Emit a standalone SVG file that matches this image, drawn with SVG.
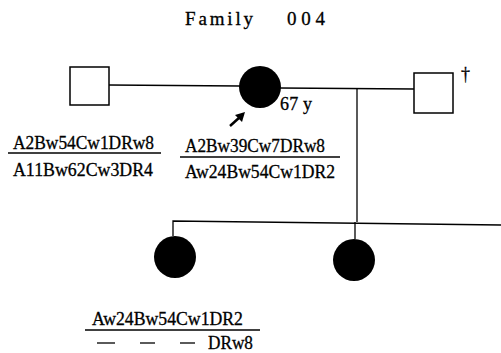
<svg xmlns="http://www.w3.org/2000/svg" width="501" height="353" viewBox="0 0 501 353">
<style>
text{font-family:"Liberation Serif","Times New Roman",serif;fill:#000;stroke:#000;stroke-width:0.3}
.g{font-size:18px}
.sq{fill:#fff;stroke:#000;stroke-width:1.5}
.c{fill:#000}
.ln{stroke:#000;stroke-width:1.3;fill:none}
</style>
<rect width="501" height="353" fill="#fff"/>
<text x="185" y="25" font-size="19" textLength="68" lengthAdjust="spacing">Family</text>
<text x="287" y="25" font-size="19" textLength="38" lengthAdjust="spacing">004</text>
<g id="connectors">
<line class="ln" x1="109" y1="85" x2="240" y2="86"/>
<line class="ln" x1="280" y1="88" x2="414" y2="89"/>
<line class="ln" x1="357" y1="89" x2="357" y2="222"/>
<polyline class="ln" points="173,236 173,221 501,225"/>
<line class="ln" x1="355" y1="222" x2="355" y2="239"/>
</g>
<g id="father"><rect class="sq" x="70" y="67" width="39" height="38"/></g>
<g id="proband"><circle class="c" cx="260" cy="87" r="21"/>
<text x="280" y="110" font-size="18" textLength="32" lengthAdjust="spacing">67 y</text>
<path d="M230,126 L240,117" stroke="#000" stroke-width="2.5"/>
<polygon points="245,112 235,115 242,122" fill="#000"/>
</g>
<g id="husband"><rect class="sq" x="414" y="73" width="39" height="40"/>
<text x="461" y="80" font-size="18" stroke-width="0.6">†</text></g>
<g id="child1"><circle class="c" cx="175" cy="257" r="21"/></g>
<g id="child2"><circle class="c" cx="354" cy="260" r="21"/></g>
<g id="labels">
<text class="g" x="13" y="149" textLength="141" lengthAdjust="spacingAndGlyphs">A2Bw54Cw1DRw8</text>
<line class="ln" x1="8" y1="153" x2="161" y2="153"/>
<text class="g" x="13" y="176" textLength="140" lengthAdjust="spacingAndGlyphs">A11Bw62Cw3DR4</text>
<text class="g" x="185" y="152" textLength="140" lengthAdjust="spacingAndGlyphs">A2Bw39Cw7DRw8</text>
<line class="ln" x1="180" y1="157" x2="340" y2="157"/>
<text class="g" x="185" y="178" textLength="150" lengthAdjust="spacingAndGlyphs">Aw24Bw54Cw1DR2</text>
<text class="g" x="92" y="325" textLength="151" lengthAdjust="spacingAndGlyphs">Aw24Bw54Cw1DR2</text>
<line class="ln" x1="85" y1="330" x2="260" y2="330"/>
<line class="ln" x1="97" y1="343" x2="115" y2="343"/>
<line class="ln" x1="140" y1="343" x2="155" y2="343"/>
<line class="ln" x1="180" y1="343" x2="195" y2="343"/>
<text class="g" x="208" y="349" textLength="45" lengthAdjust="spacingAndGlyphs">DRw8</text>
</g>
</svg>
